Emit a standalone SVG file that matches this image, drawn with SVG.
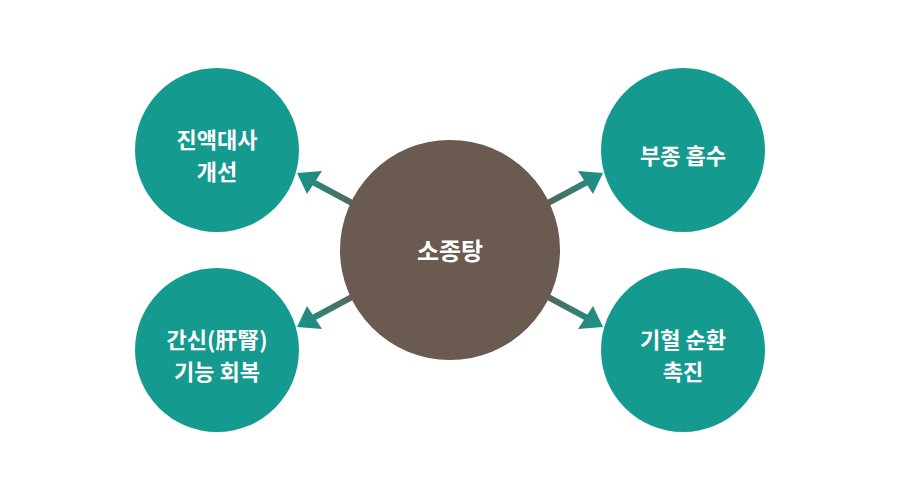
<svg xmlns="http://www.w3.org/2000/svg" width="900" height="500" viewBox="0 0 900 500">
<style>
.node{fill:#149a8f}
.center{fill:#6a5a50}
.lbl{font-family:"Noto Sans CJK KR","Noto Sans",sans-serif;font-weight:700;font-size:22px;fill:#ffffff;text-anchor:middle}
.big{font-size:24px}
.conn{stroke-width:6;fill:none}
</style>
<defs>
<linearGradient id="gTL" gradientUnits="userSpaceOnUse" x1="352" y1="203" x2="297" y2="173"><stop offset="0" stop-color="#56665d"/><stop offset="1" stop-color="#15968b"/></linearGradient>
<linearGradient id="gTR" gradientUnits="userSpaceOnUse" x1="548" y1="203" x2="603" y2="173"><stop offset="0" stop-color="#56665d"/><stop offset="1" stop-color="#15968b"/></linearGradient>
<linearGradient id="gBL" gradientUnits="userSpaceOnUse" x1="352" y1="297" x2="297" y2="327"><stop offset="0" stop-color="#56665d"/><stop offset="1" stop-color="#15968b"/></linearGradient>
<linearGradient id="gBR" gradientUnits="userSpaceOnUse" x1="548" y1="297" x2="603" y2="327"><stop offset="0" stop-color="#56665d"/><stop offset="1" stop-color="#15968b"/></linearGradient>
</defs>
<rect width="900" height="500" fill="#ffffff"/>
<g id="connectors">
<path class="conn" d="M352,203 L311,181" stroke="url(#gTL)"/>
<polygon points="297,173 322,171 307,194" fill="url(#gTL)"/>
<path class="conn" d="M548,203 L589,181" stroke="url(#gTR)"/>
<polygon points="603,173 578,171 593,194" fill="url(#gTR)"/>
<path class="conn" d="M352,297 L311,319" stroke="url(#gBL)"/>
<polygon points="297,327 322,329 307,306" fill="url(#gBL)"/>
<path class="conn" d="M548,297 L589,319" stroke="url(#gBR)"/>
<polygon points="603,327 578,329 593,306" fill="url(#gBR)"/>
</g>
<g id="center">
<circle class="center" cx="450" cy="250" r="110"/>
<text class="lbl big" x="450" y="260">소종탕</text>
</g>
<g id="n1">
<circle class="node" cx="217" cy="150" r="82"/>
<text class="lbl" x="217" y="148">진액대사</text>
<text class="lbl" x="217" y="180">개선</text>
</g>
<g id="n2">
<circle class="node" cx="683" cy="150" r="82"/>
<text class="lbl" x="683" y="164">부종 흡수</text>
</g>
<g id="n3">
<circle class="node" cx="217" cy="350" r="82"/>
<text class="lbl" x="217" y="348">간신(肝腎)</text>
<text class="lbl" x="217" y="380">기능 회복</text>
</g>
<g id="n4">
<circle class="node" cx="683" cy="350" r="82"/>
<text class="lbl" x="683" y="348">기혈 순환</text>
<text class="lbl" x="683" y="380">촉진</text>
</g>
</svg>
